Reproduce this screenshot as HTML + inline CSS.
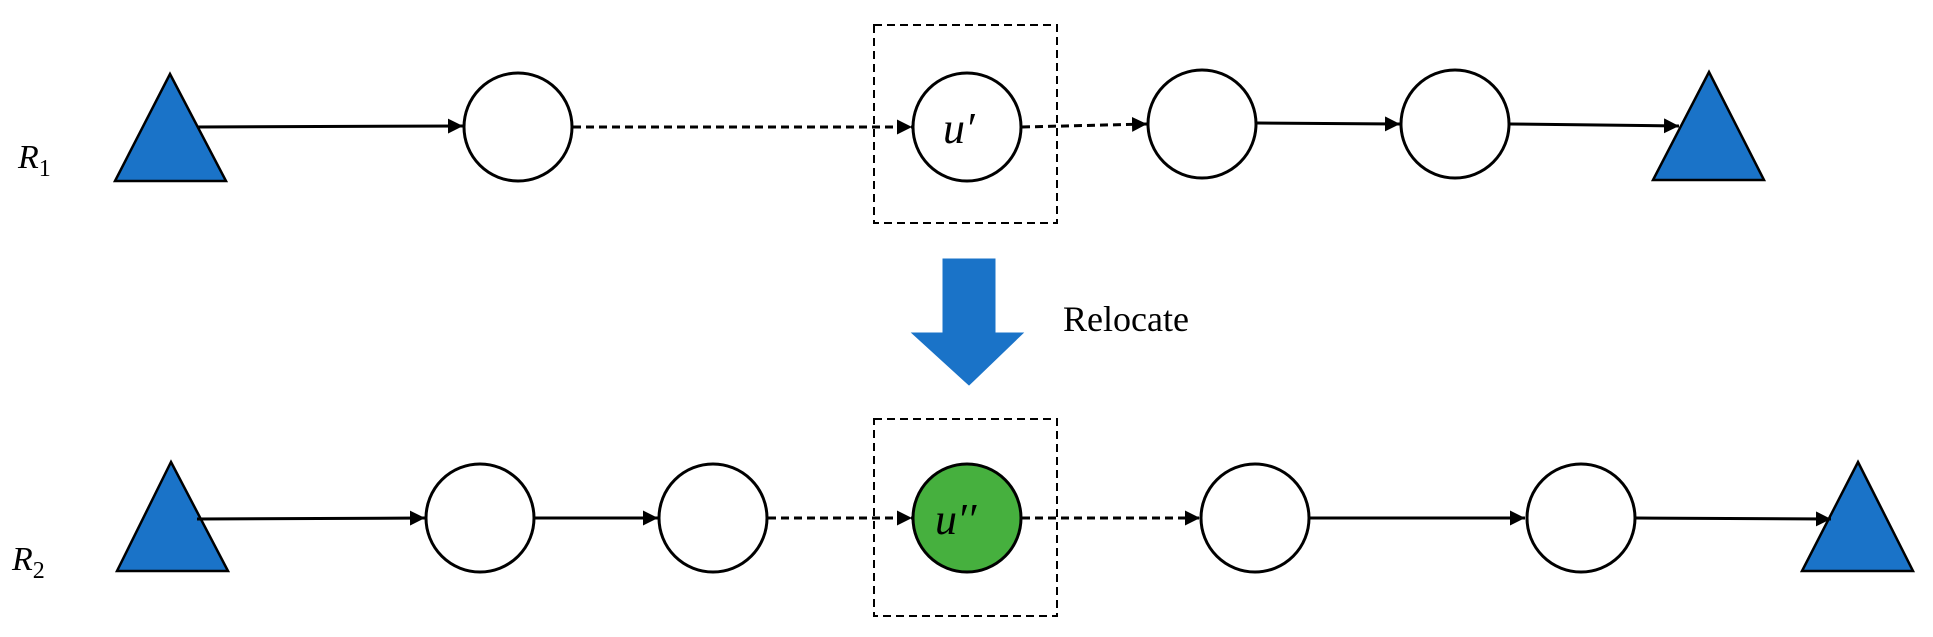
<!DOCTYPE html>
<html><head><style>html,body{margin:0;padding:0;background:#fff}svg{display:block}</style></head>
<body>
<svg width="1933" height="637" viewBox="0 0 1933 637" xmlns="http://www.w3.org/2000/svg">
<defs>
<marker id="a" viewBox="0 0 10 10" refX="10" refY="5" markerWidth="5" markerHeight="5" markerUnits="strokeWidth" orient="auto"><path d="M0,0 L10,5 L0,10 z" fill="#000"/></marker>
</defs>
<g fill="#1a73c8" stroke="#000" stroke-width="2.5">
<polygon points="170,74 226,181 115,181"/>
<polygon points="1709,72 1764,180 1653,180"/>
<polygon points="171,462 228,571 117,571"/>
<polygon points="1858,462 1913,571 1802,571"/>
</g>
<g stroke="#000" stroke-width="3" fill="none">
<line x1="197" y1="127" x2="463" y2="126" marker-end="url(#a)"/>
<line x1="573" y1="127" x2="912" y2="127" stroke-dasharray="8,5" marker-end="url(#a)"/>
<line x1="1022" y1="127" x2="1147" y2="124" stroke-dasharray="8,5" marker-end="url(#a)"/>
<line x1="1257" y1="123" x2="1400" y2="124" marker-end="url(#a)"/>
<line x1="1510" y1="124" x2="1679" y2="126" marker-end="url(#a)"/>
<line x1="197" y1="519" x2="425" y2="518" marker-end="url(#a)"/>
<line x1="535" y1="518" x2="658" y2="518" marker-end="url(#a)"/>
<line x1="768" y1="518" x2="912" y2="518" stroke-dasharray="8,5" marker-end="url(#a)"/>
<line x1="1022" y1="518" x2="1200" y2="518" stroke-dasharray="8,5" marker-end="url(#a)"/>
<line x1="1310" y1="518" x2="1525" y2="518" marker-end="url(#a)"/>
<line x1="1636" y1="518" x2="1831" y2="519" marker-end="url(#a)"/>
</g>
<g stroke="#000" stroke-width="3" fill="#fff">
<circle cx="518" cy="127" r="54"/>
<circle cx="967" cy="127" r="54"/>
<circle cx="1202" cy="124" r="54"/>
<circle cx="1455" cy="124" r="54"/>
<circle cx="480" cy="518" r="54"/>
<circle cx="713" cy="518" r="54"/>
<circle cx="967" cy="518" r="54" fill="#46b03e"/>
<circle cx="1255" cy="518" r="54"/>
<circle cx="1581" cy="518" r="54"/>
</g>
<g stroke="#000" stroke-width="2" fill="none" stroke-dasharray="8,5">
<rect x="874" y="25" width="183" height="198"/>
<rect x="874" y="419" width="183" height="197"/>
</g>
<polygon points="943,259 995,259 995,333 1023,333 969,385 912,333 943,333" fill="#1a73c8" stroke="#1a73c8" stroke-width="1"/>
<text x="1063" y="331" font-family="Liberation Serif, serif" font-size="36">Relocate</text>
<g font-family="Liberation Serif, DejaVu Serif, serif" font-style="italic">
<text x="943" y="143" font-size="44">u′</text>
<text x="935" y="534" font-size="44">u′′</text>
<text x="18" y="168" font-size="34">R<tspan font-style="normal" font-size="24" dy="8">1</tspan></text>
<text x="12" y="570" font-size="34">R<tspan font-style="normal" font-size="24" dy="8">2</tspan></text>
</g>
</svg>
</body></html>
